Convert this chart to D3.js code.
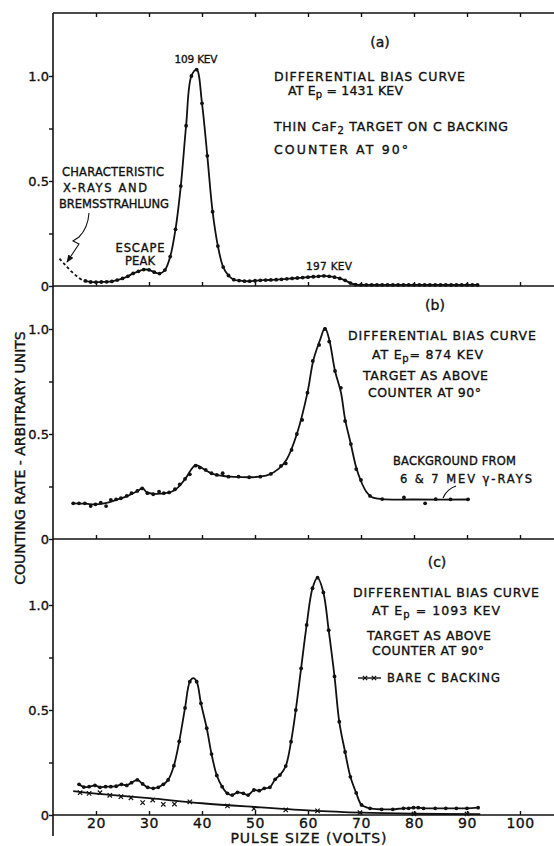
<!DOCTYPE html>
<html lang="en">
<head>
<meta charset="UTF-8">
<title>Differential bias curves</title>
<script src="https://d3js.org/d3.v7.min.js"></script>
<style>
  html, body { margin: 0; padding: 0; background: #fff; }
  svg { display: block; }
  text { font-family: "DejaVu Sans", sans-serif; fill: #111; stroke: #111; stroke-width: 0.35px; }
  .head { font-size: 12.5px; }
  .note { font-size: 11.5px; }
  .small { font-size: 10.5px; }
  .label { font-size: 14px; }
  .frame { stroke: #111; stroke-width: 1.6; fill: none; }
  .curve { stroke: #111; stroke-width: 1.8; fill: none; }
  .dot { fill: #111; }
</style>
</head>
<body>
<svg id="chart" width="554" height="846"></svg>
<script>
// pulse size (volts), counting rate (arbitrary units)
const voltTicks = [20, 30, 40, 50, 60, 70, 80, 90, 100];
const rateTicks = [0, 0.25, 0.5, 0.75, 1];
const rateLabels = { 0: "0", 0.5: "0.5", 1: "1.0" };

// (a) Ep = 1431 keV
const aDashed = [[13.1, 0.13], [14.2, 0.10], [15.4, 0.068], [16.7, 0.04], [17.6, 0.026], [18, 0.024]];
const aPoints = [
  [18, 0.024], [19, 0.019], [20, 0.018], [21, 0.019], [22, 0.02], [23, 0.022], [24, 0.028],
  [25, 0.036], [26, 0.046], [27, 0.06], [28, 0.07], [29, 0.078], [30, 0.077], [31, 0.066],
  [32, 0.059], [33, 0.076], [34, 0.14], [35, 0.27], [36, 0.476], [37, 0.763], [38, 1.0],
  [39, 1.03], [40, 0.87], [41, 0.62], [42, 0.354], [43, 0.19], [44, 0.09], [45, 0.05],
  [46, 0.03], [47, 0.026], [48, 0.023], [49, 0.023], [50, 0.025], [51, 0.027], [52, 0.028],
  [53, 0.029], [54, 0.03], [55, 0.032], [56, 0.034], [57, 0.036], [58, 0.038], [59, 0.04],
  [60, 0.042], [61, 0.044], [62, 0.046], [63, 0.048], [64, 0.046], [65, 0.042], [66, 0.036],
  [67, 0.027], [68, 0.014], [69, 0.007], [70, 0.005], [71, 0.005], [72, 0.005], [73, 0.005],
  [74, 0.005], [75, 0.005], [76, 0.005], [77, 0.005], [78, 0.005], [79, 0.005], [80, 0.005],
  [81, 0.005], [82, 0.005], [83, 0.005], [84, 0.005], [85, 0.005], [86, 0.005], [87, 0.005],
  [88, 0.005], [89, 0.005], [90, 0.005], [91, 0.005], [92, 0.005]
];

// (b) Ep = 874 keV
const bPoints = [
  [15.7, 0.17], [16.8, 0.17], [17.9, 0.17], [19.0, 0.157], [19.9, 0.165], [20.9, 0.173],
  [21.9, 0.157], [22.8, 0.186], [23.8, 0.189], [24.7, 0.194], [25.8, 0.205], [26.7, 0.218],
  [27.8, 0.229], [28.7, 0.241], [29.7, 0.218], [30.8, 0.213], [31.9, 0.225], [32.8, 0.218],
  [33.8, 0.222], [34.9, 0.237], [35.8, 0.26], [36.8, 0.286], [37.7, 0.308], [38.8, 0.349],
  [39.6, 0.34], [40.7, 0.329], [41.8, 0.313], [42.8, 0.305], [43.9, 0.313], [45.0, 0.297],
  [46.9, 0.297], [48.9, 0.294], [51.0, 0.297], [53.0, 0.31], [54.9, 0.348], [55.8, 0.36],
  [56.9, 0.424], [57.9, 0.5], [58.9, 0.567], [59.9, 0.697], [60.9, 0.848], [62.1, 0.924],
  [63.2, 1.0], [64.0, 0.94], [65.1, 0.80], [66.2, 0.72], [67.0, 0.562], [68.1, 0.452],
  [69.1, 0.333], [70.0, 0.281], [71.7, 0.205], [74.0, 0.19], [78.1, 0.198], [82.1, 0.17],
  [84.1, 0.19], [86.9, 0.189], [90.2, 0.189]
];
const bCurve = [
  [15.7, 0.17], [18, 0.168], [20, 0.165], [22, 0.172], [24, 0.188], [26, 0.205], [27.8, 0.228],
  [28.8, 0.242], [29.6, 0.222], [31, 0.215], [33, 0.218], [35, 0.235], [36.8, 0.285],
  [38.8, 0.352], [40.5, 0.33], [42, 0.31], [44, 0.3], [46, 0.296], [50, 0.295], [52.5, 0.305],
  [54.5, 0.335], [56, 0.38], [57.9, 0.5], [59.9, 0.697], [61, 0.85], [62.3, 0.95], [63.2, 1.005],
  [64, 0.95], [65.1, 0.80], [66.2, 0.70], [67, 0.57], [68.1, 0.45], [69.1, 0.34], [70, 0.275],
  [71, 0.225], [72, 0.2], [74, 0.19], [80, 0.188], [90.2, 0.188]
];

// (c) Ep = 1093 keV
const cPoints = [
  [16.8, 0.146], [17.7, 0.133], [18.7, 0.135], [19.8, 0.141], [20.75, 0.132], [21.8, 0.135],
  [22.8, 0.135], [23.8, 0.137], [24.8, 0.146], [25.8, 0.141], [26.7, 0.154], [27.8, 0.167],
  [28.8, 0.148], [29.75, 0.132], [30.8, 0.127], [31.75, 0.132], [32.7, 0.146], [33.6, 0.167],
  [34.7, 0.235], [35.7, 0.35], [36.8, 0.51], [37.7, 0.635], [39.0, 0.635], [39.8, 0.532],
  [40.9, 0.413], [41.8, 0.29], [42.8, 0.188], [43.8, 0.135], [44.8, 0.103], [45.7, 0.095],
  [46.7, 0.108], [47.8, 0.103], [48.7, 0.095], [49.8, 0.119], [50.8, 0.116], [51.75, 0.127],
  [52.8, 0.132], [53.8, 0.17], [54.7, 0.19], [55.8, 0.233], [56.8, 0.349], [57.7, 0.5],
  [58.7, 0.698], [59.75, 0.905], [60.85, 1.08], [61.8, 1.13], [62.9, 1.06], [63.9, 0.88],
  [65.0, 0.66], [65.9, 0.444], [67.0, 0.3], [68.0, 0.182], [69.1, 0.105], [70.1, 0.048],
  [71.7, 0.032], [73.9, 0.027], [76.0, 0.027], [78.0, 0.032], [79.0, 0.032], [79.9, 0.035],
  [80.8, 0.035], [81.8, 0.032], [84.0, 0.032], [86.0, 0.032], [88.0, 0.032], [90.0, 0.032],
  [92.1, 0.035]
];
// top of the drawn curve over the first peak in (c)
const cPeakTop = [[38.35, 0.652]];
// bare C backing
const cBacking = [
  [17.0, 0.106], [18.7, 0.103], [20.75, 0.106], [22.6, 0.094], [24.7, 0.087], [26.6, 0.082],
  [28.8, 0.059], [30.7, 0.071], [32.7, 0.051], [34.8, 0.052], [37.7, 0.063], [44.8, 0.043],
  [49.8, 0.03], [55.8, 0.024], [61.8, 0.02], [69.8, 0.011], [80, 0.005], [90, 0.005]
];
const cBackingCurve = [
  [15.7, 0.114], [20, 0.102], [30, 0.08], [40, 0.056], [50, 0.038], [60, 0.022],
  [70, 0.011], [80, 0.006], [92.5, 0.004]
];

const svg = d3.select("#chart");
const left = 53, right = 554;
const unit = 210; // px per 1.0 of counting rate

const x = d3.scaleLinear().domain([20, 100]).range([96, 520]);

const panels = [
  { top: 13, bottom: 286 },
  { top: 286, bottom: 539 },
  { top: 539, bottom: 815 }
];
panels.forEach(p => {
  p.y = d3.scaleLinear().domain([0, 1]).range([p.bottom, p.bottom - unit]);
});

const smooth = d3.curveCatmullRom.alpha(0.5);
function lineFor(y) {
  return d3.line().x(d => x(d[0])).y(d => y(d[1])).curve(smooth);
}

// frame lines
svg.append("line").attr("class", "frame")
  .attr("x1", left).attr("x2", left).attr("y1", panels[0].top).attr("y2", 836);
[panels[0].top].concat(panels.map(p => p.bottom)).forEach(yy => {
  svg.append("line").attr("class", "frame")
    .attr("x1", left).attr("x2", right).attr("y1", yy).attr("y2", yy);
});

// x ticks: down from the top border, up from every panel bottom
const topAxis = svg.append("g")
  .attr("transform", `translate(0,${panels[0].top})`)
  .call(d3.axisBottom(x).tickValues(voltTicks).tickSize(4).tickFormat(""));
topAxis.select(".domain").remove();
topAxis.selectAll("line").attr("stroke", "#111").attr("stroke-width", 1.4);

panels.forEach((p, i) => {
  const g = svg.append("g")
    .attr("transform", `translate(0,${p.bottom})`)
    .call(d3.axisBottom(x).tickValues(voltTicks).tickSize(-4).tickPadding(3)
      .tickFormat(i === 2 ? d3.format("d") : ""));
  g.select(".domain").remove();
  g.selectAll("line").attr("stroke", "#111").attr("stroke-width", 1.4);
  g.selectAll("text").attr("class", "label")
    .attr("font-family", null).attr("font-size", null).attr("fill", null)
    .attr("letter-spacing", 0.5);

  const ya = svg.append("g")
    .attr("transform", `translate(${left},0)`)
    .call(d3.axisLeft(p.y).tickValues(rateTicks).tickSize(4).tickPadding(0)
      .tickFormat(d => rateLabels[d] || ""));
  ya.select(".domain").remove();
  ya.selectAll("line").attr("stroke", "#111").attr("stroke-width", 1.4);
  ya.selectAll("text")
    .attr("font-family", null).attr("fill", null).attr("font-size", 13);
});

// axis titles
svg.append("text")
  .attr("class", "label")
  .attr("transform", "translate(25,458) rotate(-90)")
  .attr("text-anchor", "middle")
  .text("COUNTING RATE - ARBITRARY UNITS");
svg.append("text")
  .attr("class", "label")
  .attr("x", 309).attr("y", 843)
  .attr("text-anchor", "middle")
  .attr("letter-spacing", 1)
  .text("PULSE SIZE (VOLTS)");

// curves and points
function drawSeries(p, curveData, pts) {
  svg.append("path").datum(curveData).attr("class", "curve").attr("d", lineFor(p.y));
  svg.selectAll(null).data(pts).join("circle")
    .attr("class", "dot")
    .attr("cx", d => x(d[0])).attr("cy", d => p.y(d[1])).attr("r", 1.9);
}

svg.append("path").datum(aDashed).attr("class", "curve")
  .attr("stroke-width", 1.3).attr("stroke-dasharray", "3,2.5")
  .attr("d", lineFor(panels[0].y));
drawSeries(panels[0], aPoints, aPoints);
drawSeries(panels[1], bCurve, bPoints);
const cCurve = cPoints.concat(cPeakTop).sort((a, b) => a[0] - b[0]);
drawSeries(panels[2], cCurve, cPoints);

const crossPath = "M-2.2,-2.2L2.2,2.2M-2.2,2.2L2.2,-2.2";
svg.append("path").datum(cBackingCurve).attr("class", "curve")
  .attr("stroke-width", 1.4).attr("d", lineFor(panels[2].y));
svg.selectAll(null).data(cBacking).join("path")
  .attr("d", crossPath)
  .attr("transform", d => `translate(${x(d[0])},${panels[2].y(d[1])})`)
  .attr("stroke", "#111").attr("stroke-width", 1.2);

// legend sample for the bare backing
svg.append("line").attr("x1", 358).attr("x2", 381).attr("y1", 678).attr("y2", 678)
  .attr("stroke", "#111").attr("stroke-width", 1.4);
[365, 374].forEach(cx => {
  svg.append("path").attr("d", crossPath)
    .attr("transform", `translate(${cx},678)`)
    .attr("stroke", "#111").attr("stroke-width", 1.2);
});

// text annotations
const notes = [
  { parts: ["109 KEV"], x: 196, y: 63, anchor: "middle", cls: "small", w: 43 },
  { parts: ["(a)"], x: 380, y: 47, anchor: "middle", cls: "label" },
  { parts: ["DIFFERENTIAL BIAS CURVE"], x: 274, y: 81, cls: "head", w: 191 },
  { parts: ["AT  E", ["p"], " = 1431 KEV"], x: 288, y: 94.5, cls: "head", w: 115 },
  { parts: ["THIN  CaF", ["2"], " TARGET ON C BACKING"], x: 274, y: 131, cls: "head", w: 234 },
  { parts: ["COUNTER AT 90°"], x: 274, y: 154, cls: "head", w: 134 },
  { parts: ["CHARACTERISTIC"], x: 62, y: 176, cls: "note", w: 102 },
  { parts: ["X-RAYS  AND"], x: 63, y: 192, cls: "note", w: 84 },
  { parts: ["BREMSSTRAHLUNG"], x: 59, y: 208, cls: "note", w: 110 },
  { parts: ["ESCAPE"], x: 140, y: 252, anchor: "middle", cls: "note", w: 49 },
  { parts: ["PEAK"], x: 140, y: 265, anchor: "middle", cls: "note", w: 30 },
  { parts: ["197 KEV"], x: 329, y: 270, anchor: "middle", cls: "small", w: 46 },

  { parts: ["(b)"], x: 435, y: 310, anchor: "middle", cls: "label" },
  { parts: ["DIFFERENTIAL BIAS CURVE"], x: 348, y: 340, cls: "head", w: 188 },
  { parts: ["AT  E", ["p"], "= 874 KEV"], x: 372, y: 359, cls: "head", w: 111 },
  { parts: ["TARGET AS ABOVE"], x: 363, y: 380, cls: "head", w: 125 },
  { parts: ["COUNTER AT 90°"], x: 368, y: 397, cls: "head", w: 113 },
  { parts: ["BACKGROUND FROM"], x: 393, y: 465, cls: "note", w: 123 },
  { parts: ["6 & 7 MEV γ-RAYS"], x: 400, y: 483, cls: "note", w: 132 },

  { parts: ["(c)"], x: 437, y: 567, anchor: "middle", cls: "label" },
  { parts: ["DIFFERENTIAL BIAS CURVE"], x: 353, y: 597, cls: "head", w: 186 },
  { parts: ["AT  E", ["p"], " = 1093 KEV"], x: 372, y: 615, cls: "head", w: 128 },
  { parts: ["TARGET AS ABOVE"], x: 367, y: 640, cls: "head", w: 124 },
  { parts: ["COUNTER AT 90°"], x: 372, y: 655, cls: "head", w: 112 },
  { parts: ["BARE C BACKING"], x: 387, y: 682, cls: "note", w: 113 }
];

notes.forEach(n => {
  const t = svg.append("text")
    .attr("class", n.cls)
    .attr("x", n.x).attr("y", n.y)
    .attr("text-anchor", n.anchor || "start");
  if (n.w) t.attr("textLength", n.w).attr("lengthAdjust", "spacing");
  n.parts.forEach((part, i) => {
    if (Array.isArray(part)) {
      t.append("tspan").attr("dy", 3).attr("font-size", "0.8em").text(part[0]);
    } else {
      const s = t.append("tspan").text(part);
      if (i > 0) s.attr("dy", -3);
    }
  });
});

// pointer from the x-ray note to the dashed tail
svg.append("defs").append("marker")
  .attr("id", "head").attr("viewBox", "0 0 10 10")
  .attr("refX", 9).attr("refY", 5)
  .attr("markerWidth", 7).attr("markerHeight", 7)
  .attr("orient", "auto")
  .append("path").attr("d", "M0,1L10,5L0,9z").attr("fill", "#111");
svg.append("path")
  .attr("d", "M89,213 Q88,228 79,237 L73,241 L79,244 L67,262")
  .attr("fill", "none").attr("stroke", "#111").attr("stroke-width", 1.1)
  .attr("marker-end", "url(#head)");

// pointer from the gamma-ray note to the background line
svg.append("path")
  .attr("d", "M456,486 Q447,489 443,498")
  .attr("fill", "none").attr("stroke", "#111").attr("stroke-width", 1.1);
</script>
</body>
</html>
